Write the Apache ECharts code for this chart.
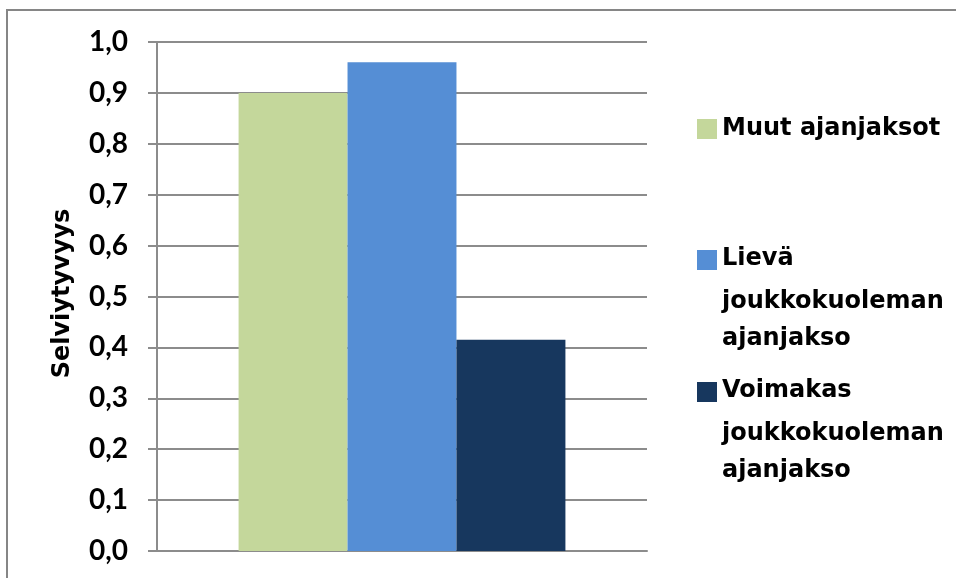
<!DOCTYPE html>
<html>
<head>
<meta charset="utf-8">
<script src="https://cdn.jsdelivr.net/npm/echarts@6/dist/echarts.min.js"></script>
<style>
html,body{margin:0;padding:0;background:#fff;}
#chart{width:956px;height:578px;}
</style>
</head>
<body>
<div id="chart"></div>
<script>
var categories = [''];
var seriesNames = ['Muut ajanjaksot', 'Lievä joukkokuoleman ajanjakso', 'Voimakas joukkokuoleman ajanjakso'];
var muut = [0.90];
var lieva = [0.96];
var voimakas = [0.415];
var colors = ['#c4d79b', '#558ed5', '#17375e'];
var yAxisName = 'Selviytyvyys';

var chart = echarts.init(document.getElementById('chart'), null, {renderer: 'canvas'});
var grey = '#8c8c8c';
var legendFont = 'DejaVu Sans';

function legendFormatter(name) {
  var words = name.split(' ');
  if (words.length === 1 || name === seriesNames[0]) return '{a|' + name + '}';
  return '{a|' + words[0] + '}\n{b|' + words.slice(1, 2).join(' ') + '}\n{b|' + words.slice(2).join(' ') + '}';
}

function makeLegend(name, top, multi) {
  return {
    data: [name],
    left: 692,
    top: top,
    itemWidth: 20,
    itemHeight: 20,
    icon: 'rect',
    selectedMode: false,
    formatter: legendFormatter,
    textStyle: {
      fontFamily: legendFont,
      fontWeight: 'bold',
      fontSize: 24,
      color: '#000',
      padding: multi ? [72, 0, 0, 0] : 0,
      rich: {
        a: {fontFamily: legendFont, fontWeight: 'bold', fontSize: 24, color: '#000', lineHeight: 48},
        b: {fontFamily: legendFont, fontWeight: 'bold', fontSize: 24, color: '#000', lineHeight: 37}
      }
    }
  };
}

var option = {
  animation: false,
  backgroundColor: '#fff',
  graphic: [{
    type: 'rect',
    shape: {x: 7, y: 10, width: 1000, height: 1000},
    style: {fill: 'none', stroke: '#868686', lineWidth: 2},
    silent: true
  }],
  legend: [
    makeLegend(seriesNames[0], 112, false),
    makeLegend(seriesNames[1], 242, true),
    makeLegend(seriesNames[2], 374, true)
  ],
  grid: {left: 157, top: 42, width: 490, height: 509, containLabel: false},
  xAxis: {
    type: 'category',
    data: categories,
    axisLine: {show: true, lineStyle: {color: grey, width: 2}},
    axisTick: {show: false},
    axisLabel: {show: false},
    splitLine: {show: false}
  },
  yAxis: {
    type: 'value',
    min: 0,
    max: 1,
    interval: 0.1,
    name: yAxisName,
    nameLocation: 'middle',
    nameRotate: 90,
    nameGap: 82,
    nameTextStyle: {fontFamily: legendFont, fontWeight: 'bold', fontSize: 24, color: '#000', padding: [0, 0, 0, 6]},
    axisLine: {show: true, lineStyle: {color: grey, width: 2}},
    axisTick: {show: true, length: 9, lineStyle: {color: grey, width: 2}},
    axisLabel: {
      margin: 29,
      fontFamily: 'Lato',
      fontWeight: 'bold',
      fontSize: 28,
      color: '#000',
      formatter: function (v) { return v.toFixed(1).replace('.', ','); }
    },
    splitLine: {show: true, lineStyle: {color: grey, width: 2}}
  },
  series: [
    {name: seriesNames[0], type: 'bar', data: muut, itemStyle: {color: colors[0]}, barGap: '0%', barCategoryGap: '33.3%'},
    {name: seriesNames[1], type: 'bar', data: lieva, itemStyle: {color: colors[1]}, barGap: '0%', barCategoryGap: '33.3%'},
    {name: seriesNames[2], type: 'bar', data: voimakas, itemStyle: {color: colors[2]}, barGap: '0%', barCategoryGap: '33.3%'}
  ]
};
chart.setOption(option);
</script>
</body>
</html>
